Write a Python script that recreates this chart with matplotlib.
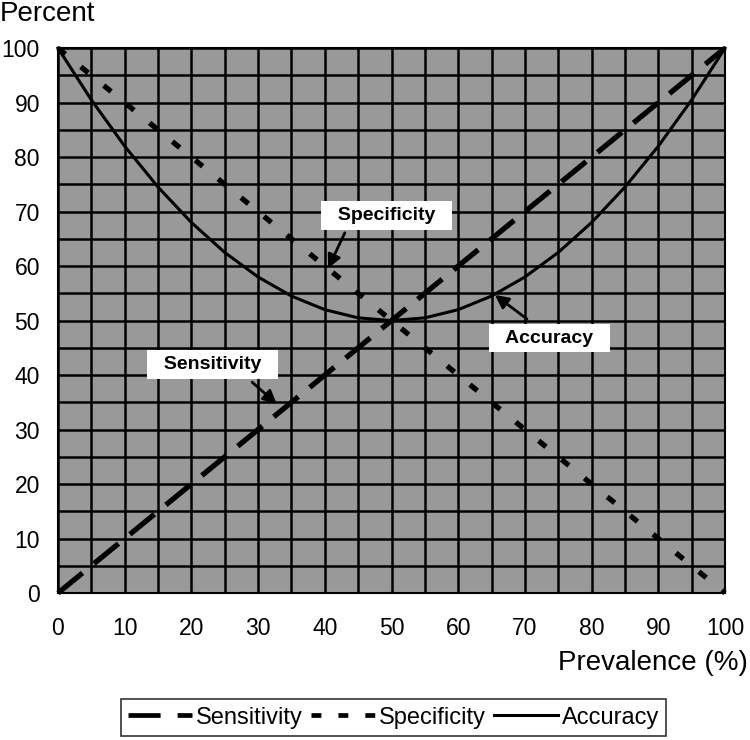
import matplotlib.pyplot as plt

plt.rcParams["font.family"] = ["Liberation Sans", "DejaVu Sans"]

# prevalence (%) and the three curves
prevalence = [0, 5, 10, 15, 20, 25, 30, 35, 40, 45, 50,
              55, 60, 65, 70, 75, 80, 85, 90, 95, 100]
sensitivity = [0, 5, 10, 15, 20, 25, 30, 35, 40, 45, 50,
               55, 60, 65, 70, 75, 80, 85, 90, 95, 100]
specificity = [100, 95, 90, 85, 80, 75, 70, 65, 60, 55, 50,
               45, 40, 35, 30, 25, 20, 15, 10, 5, 0]
accuracy = [100, 90.5, 82, 74.5, 68, 62.5, 58, 54.5, 52, 50.5, 50,
            50.5, 52, 54.5, 58, 62.5, 68, 74.5, 82, 90.5, 100]

GRID_STEP = 5
TICKS = [0, 10, 20, 30, 40, 50, 60, 70, 80, 90, 100]

# callouts: label, box centre, arrow start, arrow tip (data units)
callouts = [
    ("Specificity", (49.2, 69.3), (43.0, 66.1), (40.5, 59.6)),
    ("Accuracy", (73.7, 46.8), (70.3, 50.3), (65.5, 54.7)),
    ("Sensitivity", (23.2, 41.9), (29.1, 38.7), (32.8, 34.7)),
]

fig = plt.figure(figsize=(7.5, 7.4), dpi=100)
ax = fig.add_axes([0.0773, 0.1986, 0.8894, 0.7364])
ax.set_facecolor("#999999")

ax.set_xlim(0, 100)
ax.set_ylim(0, 100)
ax.set_xticks(TICKS)
ax.set_yticks(TICKS)
ax.set_xticks(range(0, 101, GRID_STEP), minor=True)
ax.set_yticks(range(0, 101, GRID_STEP), minor=True)
ax.grid(True, which="both", color="black", linewidth=1.8)
ax.set_axisbelow(True)
ax.tick_params(which="both", length=0, labelsize=16.5)
ax.tick_params(axis="x", pad=17)
ax.tick_params(axis="y", pad=13)
for s in ax.spines.values():
    s.set_linewidth(1.5)

ax.plot(prevalence, sensitivity, color="black", lw=3.8,
        dashes=(6.0, 2.8), label="Sensitivity", clip_on=False)
ax.plot(prevalence, specificity, color="black", lw=3.8,
        dashes=(1.8, 3.8), label="Specificity", clip_on=False)
ax.plot(prevalence, accuracy, color="black", lw=2.2,
        label="Accuracy", clip_on=False)

box = dict(boxstyle="square,pad=0.3", facecolor="white", edgecolor="none")
arrow = dict(arrowstyle="-|>,head_length=0.8,head_width=0.4", color="black",
             lw=2.0, shrinkA=0, shrinkB=0)
for label, centre, start, tip in callouts:
    ax.text(centre[0], centre[1], "  " + label + "  ", fontsize=14,
            fontweight="bold", ha="center", va="center", bbox=box, zorder=5)
    ax.annotate("", xy=tip, xytext=start, arrowprops=arrow, zorder=6)

fig.text(0.0, 0.981, "Percent", fontsize=20, ha="left", va="center")
fig.text(0.997, 0.104, "Prevalence (%)", fontsize=20, ha="right",
         va="center")

leg = fig.legend(loc="center", bbox_to_anchor=(0.5247, 0.0304), ncol=3,
                 fontsize=17, frameon=True, fancybox=False, handlelength=2.7,
                 handletextpad=0.17, columnspacing=0.35, borderpad=0.3,
                 borderaxespad=0)
leg.get_frame().set_edgecolor("black")
leg.get_frame().set_linewidth(1.2)
handle_lines = leg.get_lines()
handle_lines[0].set_linewidth(3.4)
handle_lines[0].set_dashes((6.8, 3.6))
handle_lines[1].set_linewidth(3.4)
handle_lines[1].set_dashes((2.1, 3.6))
handle_lines[2].set_linewidth(2.2)

fig.savefig("out.png", dpi=100, facecolor="white")
